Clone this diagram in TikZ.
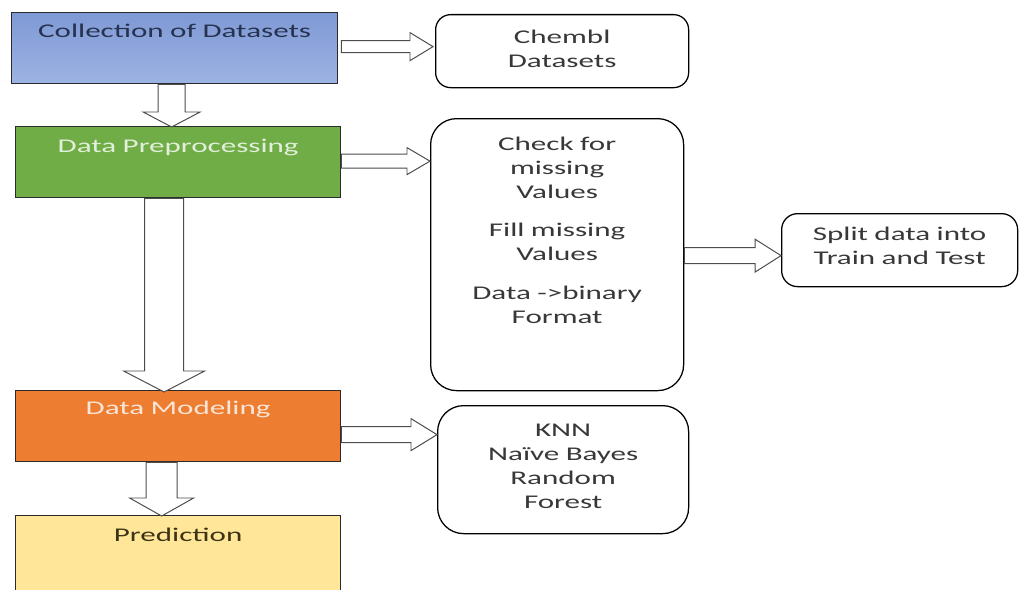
\documentclass[tikz,border=0pt]{standalone}
\usepackage{fontspec}
\setmainfont{Carlito}[FakeStretch=1.6]
\usepackage{tikz}
\usetikzlibrary{calc}
\definecolor{bleuH}{HTML}{7F99D5}
\definecolor{bleuB}{HTML}{9DB3E3}
\definecolor{bleuT}{HTML}{26334F}
\definecolor{vertC}{HTML}{70AD47}
\definecolor{vertT}{HTML}{E2EFDA}
\definecolor{oranC}{HTML}{ED7D31}
\definecolor{oranT}{HTML}{FBE5D6}
\definecolor{jauneC}{HTML}{FFE699}
\definecolor{jauneT}{HTML}{3D3315}
\definecolor{grisT}{HTML}{383838}
\definecolor{bordC}{HTML}{2B2B2B}
\newcommand{\flecheR}[5]{\draw[fleche] ($(#1)+(0,-#3)$) -- ($(#2)+(-#5,-#3)$) -- ($(#2)+(-#5,-#4)$) -- (#2)
  -- ($(#2)+(-#5,#4)$) -- ($(#2)+(-#5,#3)$) -- ($(#1)+(0,#3)$) -- cycle;}
\newcommand{\flecheD}[5]{\draw[fleche] ($(#1)+(-#3,0)$) -- ($(#2)+(-#3,-#5)$) -- ($(#2)+(-#4,-#5)$) -- (#2)
  -- ($(#2)+(#4,-#5)$) -- ($(#2)+(#3,-#5)$) -- ($(#1)+(#3,0)$) -- cycle;}
\tikzset{
  etape/.style={rectangle, draw=bordC, line width=0.9pt, fill=#1, anchor=north west,
                inner sep=0pt, minimum width=81.25mm, align=center, text width=78mm},
  bulle/.style={rectangle, rounded corners=#1, draw=black, line width=0.9pt, fill=white,
                anchor=north west, inner sep=0pt, align=center, text=grisT},
  fleche/.style={draw=black!70, line width=0.7pt, fill=white, line join=miter},
}

\begin{document}
\begin{tikzpicture}[x=0.25mm, y=-0.25mm, font=\fontsize{13.8pt}{17pt}\selectfont]
    \path[use as bounding box, clip] (0,0) rectangle (1019,590);
    \node[etape=bleuH, top color=bleuH, bottom color=bleuB, text=bleuT, minimum width=81.5mm,
          text height=6.25mm, text depth=11.5mm] (coll) at (11,12) {Collection of Datasets};
    \node[etape=vertC, text=vertT, text height=6.5mm, text depth=11.25mm] (prep) at (15,126)
      {Data Preprocessing};
    \node[etape=oranC, text=oranT, text height=6mm, text depth=11.75mm] (model) at (15,390)
      {Data Modeling};
    \node[etape=jauneC, text=jauneT, text height=6.5mm, text depth=16mm] (pred) at (15,515)
      {Prediction};
    \node[bulle=3.75mm, minimum width=63.25mm, text width=60mm, text height=7.25mm,
          text depth=11mm] (chembl) at (435,14) {Chembl\\Datasets};
    \node[bulle=6.5mm, minimum width=63.25mm, text width=60mm, text height=8mm,
          text depth=60mm] (check) at (430,118)
      {Check for\\missing\\Values\\[3.5mm]Fill missing\\Values\\[3.75mm]Data ->binary\\Format};
    \node[bulle=4mm, minimum width=59mm, text width=56mm, text height=6.75mm,
          text depth=11.5mm] (split) at (781,213) {Split data into\\Train and Test};
    \node[bulle=6.5mm, minimum width=62.75mm, text width=60mm, text height=7.75mm,
          text depth=24.25mm] (knn) at (437,405) {KNN\\Naïve Bayes\\Random\\Forest};
    \coordinate (a1) at ($(coll.east)+(3,-1.5)$);  \coordinate (b1) at ($(a1 -| chembl.west)+(-2,0)$);
    \coordinate (a2) at ($(prep.east)+(0,-1)$);    \coordinate (b2) at (a2 -| check.west);
    \coordinate (a3) at ($(model.east)+(0,8.5)$);  \coordinate (b3) at (a3 -| knn.west);
    \coordinate (a4) at ($(check.east)+(0,1)$);    \coordinate (b4) at (a4 -| split.west);
    \coordinate (d1) at ($(coll.south)+(-3,0)$);   \coordinate (e1) at ($(d1 |- prep.north)+(0,1)$);
    \coordinate (d2) at ($(prep.south)+(-14,0)$);  \coordinate (e2) at ($(d2 |- model.north)+(0,2)$);
    \coordinate (d3) at ($(model.south)+(-16.5,0)$); \coordinate (e3) at ($(d3 |- pred.north)+(0,1)$);
    \flecheR{a1}{b1}{6}{14}{23}
    \flecheR{a2}{b2}{7}{13.5}{23}
    \flecheR{a3}{b3}{8}{16}{26}
    \flecheR{a4}{b4}{8}{16.5}{26}
    \flecheD{d1}{e1}{13.5}{28.5}{15}
    \flecheD{d2}{e2}{19.5}{40.5}{21}
    \flecheD{d3}{e3}{15.5}{32}{18}
  \end{tikzpicture}
\end{document}
